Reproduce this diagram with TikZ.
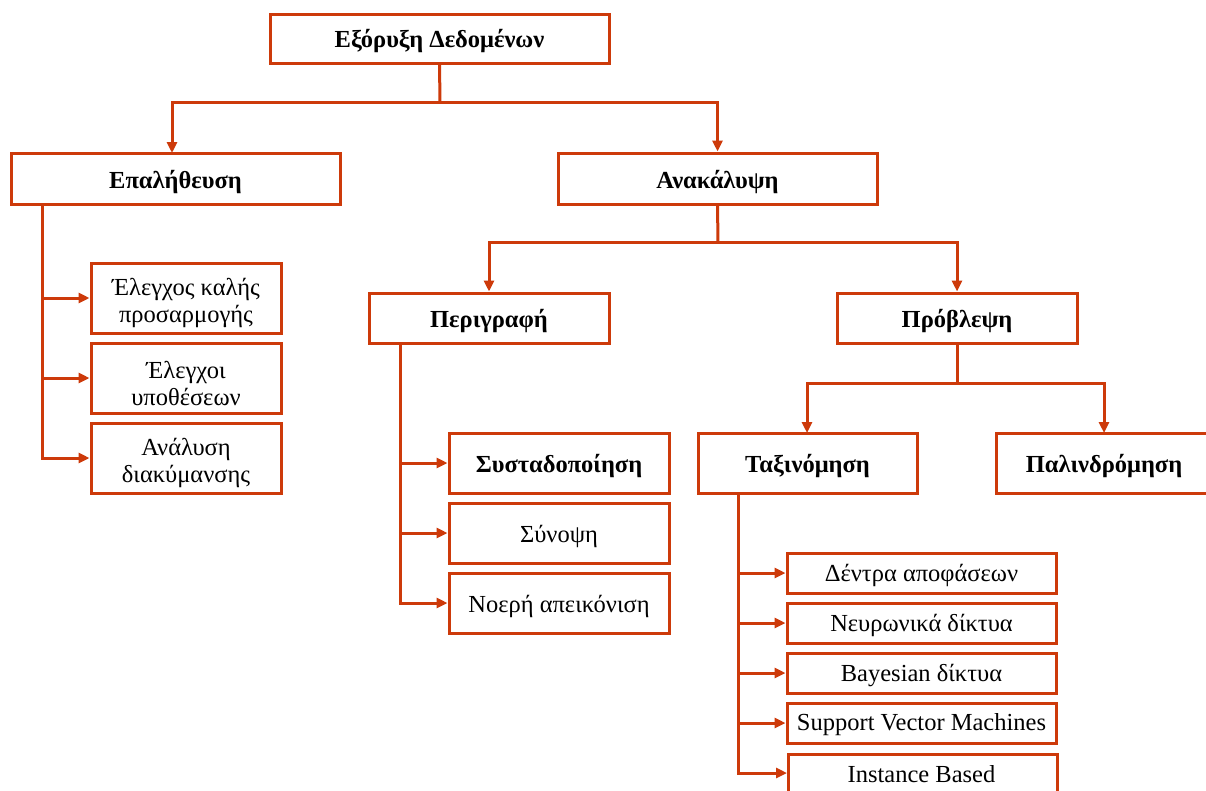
\documentclass[tikz,border=0pt]{standalone}
\usepackage{fontspec}
\setmainfont{Liberation Serif}
\usetikzlibrary{arrows.meta}
\definecolor{ored}{RGB}{205,58,10}
\tikzset{
  box/.style={draw=ored, line width=3pt, fill=white, inner sep=0pt},
  txt/.style={font=\fontsize{24.5}{27}\selectfont, align=center, inner sep=0pt},
  btxt/.style={txt, font=\fontsize{24.5}{27}\selectfont\bfseries},
  conn/.style={draw=ored, line width=3pt, -{Triangle[length=11pt,width=10pt]}},
  wire/.style={draw=ored, line width=3pt}
}
% name, text style, x1, y1, x2, y2, text shift, text
\newcommand{\bx}[8]{%
  \node[box, minimum width={#5-#3}, minimum height={#6-#4},
    label={[#2, yshift=#7]center:{#8}}] (#1) at ({(#3+#5)/2},{(#4+#6)/2}) {};}
\begin{document}
\begin{tikzpicture}[x=1pt,y=-1pt]
\useasboundingbox (0,0) rectangle (1206,790);
\fill[white] (0,0) rectangle (1206,790);
% boxes
\bx{top}{btxt}{270}{14}{609}{63}{-3pt}{Εξόρυξη Δεδομένων}
\bx{ver}{btxt}{11}{153}{340}{204}{-3pt}{Επαλήθευση}
\bx{dis}{btxt}{558}{153}{877}{204}{-3pt}{Ανακάλυψη}
\bx{v1}{txt}{91}{263}{281}{333}{-5pt}{Έλεγχος καλής\\προσαρμογής}
\bx{v2}{txt}{91}{343}{281}{413}{-5pt}{Έλεγχοι\\υποθέσεων}
\bx{v3}{txt}{91}{423}{281}{493}{-5pt}{Ανάλυση\\διακύμανσης}
\bx{desc}{btxt}{369}{293}{609}{343}{-3pt}{Περιγραφή}
\bx{pred}{btxt}{837}{293}{1077}{343}{-3pt}{Πρόβλεψη}
\bx{d1}{btxt}{449}{433}{669}{493}{-3pt}{Συσταδοποίηση}
\bx{d2}{txt}{449}{503}{669}{563}{-3pt}{Σύνοψη}
\bx{d3}{txt}{449}{573}{669}{633}{-3pt}{Νοερή απεικόνιση}
\bx{cls}{btxt}{698}{433}{917}{493}{-3pt}{Ταξινόμηση}
\bx{reg}{btxt}{996}{433}{1212}{493}{-3pt}{Παλινδρόμηση}
\bx{c1}{txt}{787}{553}{1056}{593}{-2pt}{Δέντρα αποφάσεων}
\bx{c2}{txt}{787}{603}{1056}{643}{-2pt}{Νευρωνικά δίκτυα}
\bx{c3}{txt}{787}{653}{1056}{693}{-2pt}{Bayesian δίκτυα}
\bx{c4}{txt}{787}{703}{1056}{743}{-2pt}{Support Vector Machines}
\node[box, minimum width=269, minimum height=47, anchor=north west] (c5) at (787,753) {};
\node[txt, anchor=base] (c5t) at (921.5,782) {Instance Based};
% hubs
\coordinate (h0) at (440,102);
\coordinate (h1) at (718,242);
\coordinate (h2) at (957,383);
\coordinate (tv) at (42,204);
\coordinate (td) at (400,343);
\coordinate (tc) at (738,493);
% connectors
\draw[wire] (top.south) -- (h0);
\draw[conn] (h0) -| (172,153);
\draw[conn] (h0) -| (dis.north);
\draw[wire] (dis.south) -- (h1);
\draw[conn] (h1) -| (desc.north);
\draw[conn] (h1) -| (pred.north);
\draw[wire] (pred.south) -- (h2);
\draw[conn] (h2) -| (807,433);
\draw[conn] (h2) -| (1104,433);
\draw[conn] (tv) |- (v1.west);
\draw[conn] (tv) |- (v2.west);
\draw[conn] (tv) |- (v3.west);
\draw[conn] (td) |- (d1.west);
\draw[conn] (td) |- (d2.west);
\draw[conn] (td) |- (d3.west);
\draw[conn] (tc) |- (c1.west);
\draw[conn] (tc) |- (c2.west);
\draw[conn] (tc) |- (c3.west);
\draw[conn] (tc) |- (c4.west);
\draw[conn] (tc) |- (787,773);
\end{tikzpicture}
\end{document}
